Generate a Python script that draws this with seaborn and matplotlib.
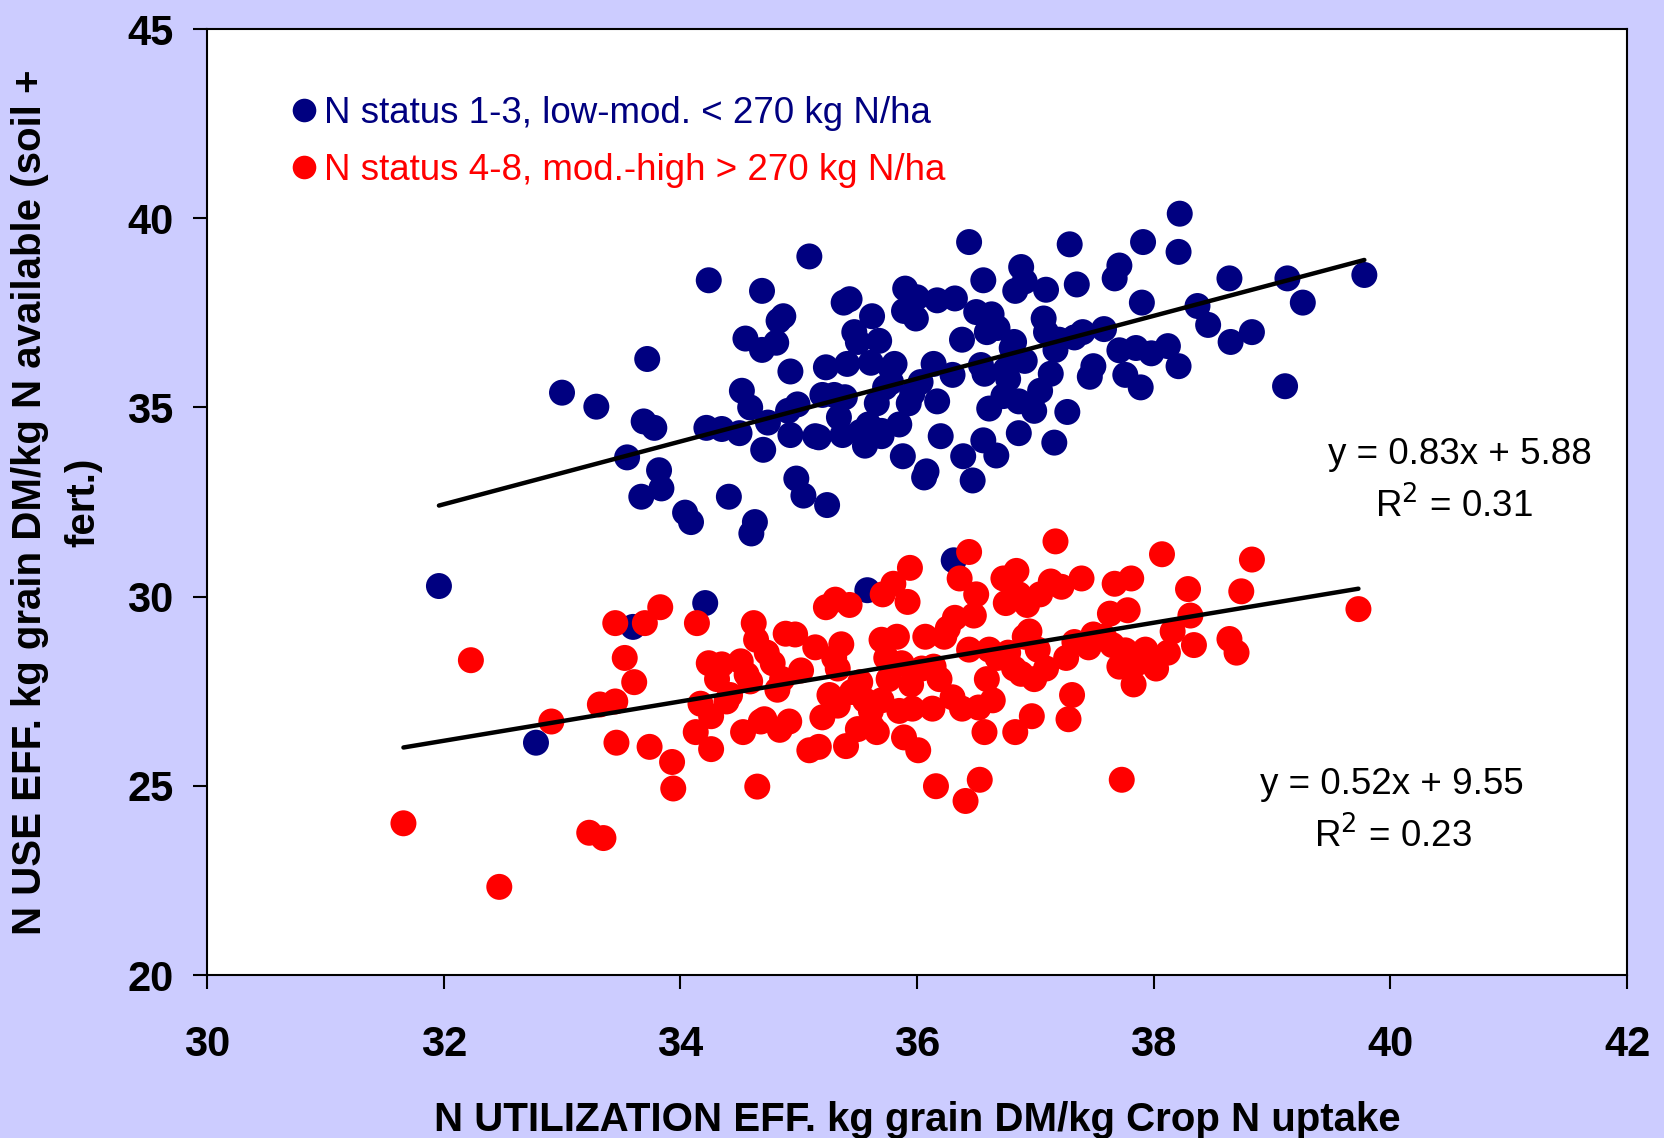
import numpy as np
import pandas as pd
import matplotlib
matplotlib.use("Agg")
import matplotlib.pyplot as plt
import seaborn as sns
from matplotlib.lines import Line2D

# ---- data: low-moderate N status (blue) ----
blue_x = [31.96, 32.78, 33.00, 33.29, 33.55, 33.60, 33.67, 33.69, 33.72, 33.78, 33.82, 33.84,
          34.04, 34.09, 34.21, 34.24, 34.22, 34.35, 34.41, 34.50, 34.52, 34.55, 34.59, 34.60,
          34.63, 34.69, 34.69, 34.70, 34.74, 34.81, 34.83, 34.87, 34.91, 34.93, 34.93, 34.98,
          34.99, 35.04, 35.09, 35.14, 35.17, 35.24, 35.23, 35.20, 35.30, 35.34, 35.37, 35.38,
          35.41, 35.39, 35.43, 35.47, 35.50, 35.52, 35.56, 35.59, 35.58, 35.61, 35.62, 35.66,
          35.68, 35.70, 35.70, 35.73, 35.78, 35.78, 35.81, 35.85, 35.88, 35.89, 35.90, 35.93,
          35.96, 35.99, 36.00, 36.03, 36.06, 36.08, 36.14, 36.17, 36.17, 36.20, 36.30, 36.31,
          36.32, 36.38, 36.39, 36.44, 36.47, 36.50, 36.54, 36.56, 36.56, 36.57, 36.59, 36.61,
          36.63, 36.67, 36.68, 36.73, 36.75, 36.77, 36.80, 36.82, 36.83, 36.86, 36.86, 36.88,
          36.91, 36.91, 36.99, 37.04, 37.07, 37.09, 37.09, 37.13, 37.16, 37.17, 37.20, 37.27,
          37.29, 37.33, 37.35, 37.40, 37.46, 37.49, 37.58, 37.67, 37.71, 37.71, 37.76, 37.85,
          37.89, 37.90, 37.91, 37.98, 38.12, 38.21, 38.21, 38.22, 38.37, 38.46, 38.64, 38.65,
          38.83, 39.11, 39.13, 39.26, 39.78]
blue_y = [30.28, 26.14, 35.39, 35.02, 33.68, 29.20, 32.64, 34.63, 36.28, 34.46, 33.34, 32.86,
          32.22, 31.97, 29.83, 38.36, 34.46, 34.43, 32.64, 34.32, 35.44, 36.82, 35.00, 31.67,
          31.97, 38.08, 36.52, 33.88, 34.60, 36.71, 37.29, 37.41, 34.91, 35.95, 34.27, 33.12,
          35.08, 32.67, 38.99, 34.24, 34.21, 32.42, 36.06, 35.33, 35.33, 34.74, 34.27, 37.77,
          36.15, 35.27, 37.86, 36.99, 36.73, 34.35, 33.99, 34.55, 30.17, 36.18, 37.41, 35.11,
          36.76, 34.38, 34.24, 35.53, 36.03, 35.67, 36.15, 34.55, 33.71, 37.55, 38.14, 35.11,
          35.36, 37.35, 37.91, 35.67, 33.15, 33.31, 36.15, 37.83, 35.16, 34.24, 35.86, 30.96,
          37.88, 36.79, 33.71, 39.37, 33.07, 37.52, 36.12, 38.36, 34.13, 35.89, 36.99, 34.97,
          37.46, 33.73, 37.10, 35.30, 36.00, 35.75, 36.57, 36.73, 38.08, 34.32, 35.16, 38.71,
          38.33, 36.23, 34.91, 35.44, 37.35, 36.99, 38.11, 35.89, 34.07, 36.52, 36.79, 34.88,
          39.31, 36.85, 38.25, 36.99, 35.81, 36.09, 37.07, 38.41, 38.75, 36.51, 35.86, 36.57,
          35.53, 37.77, 39.37, 36.43, 36.62, 39.11, 36.09, 40.12, 37.68, 37.18, 38.41, 36.73,
          36.99, 35.56, 38.41, 37.77, 38.50]

# ---- data: moderate-high N status (red) ----
red_x = [31.66, 32.23, 32.47, 32.91, 33.23, 33.35, 33.32, 33.45, 33.45, 33.46, 33.53, 33.61,
         33.70, 33.74, 33.83, 33.93, 33.94, 34.14, 34.13, 34.17, 34.24, 34.26, 34.26, 34.31,
         34.35, 34.39, 34.42, 34.51, 34.53, 34.56, 34.59, 34.62, 34.64, 34.65, 34.68, 34.71,
         34.73, 34.78, 34.82, 34.84, 34.86, 34.89, 34.92, 34.97, 35.02, 35.09, 35.14, 35.17,
         35.20, 35.23, 35.26, 35.30, 35.31, 35.33, 35.33, 35.36, 35.40, 35.43, 35.45, 35.50,
         35.52, 35.56, 35.61, 35.62, 35.66, 35.70, 35.70, 35.71, 35.74, 35.76, 35.80, 35.83,
         35.85, 35.87, 35.89, 35.92, 35.94, 35.95, 35.96, 36.01, 36.04, 36.07, 36.13, 36.14,
         36.16, 36.19, 36.23, 36.26, 36.30, 36.32, 36.36, 36.38, 36.41, 36.44, 36.44, 36.48,
         36.50, 36.52, 36.53, 36.57, 36.59, 36.61, 36.64, 36.68, 36.73, 36.75, 36.77, 36.82,
         36.83, 36.84, 36.86, 36.88, 36.91, 36.93, 36.95, 36.97, 36.99, 37.02, 37.04, 37.09,
         37.13, 37.17, 37.22, 37.26, 37.28, 37.31, 37.33, 37.39, 37.45, 37.49, 37.58, 37.63,
         37.65, 37.67, 37.71, 37.73, 37.76, 37.78, 37.81, 37.83, 37.86, 37.93, 37.98, 38.02,
         38.07, 38.12, 38.16, 38.29, 38.31, 38.34, 38.64, 38.70, 38.74, 38.83, 39.73]
red_y = [24.01, 28.32, 22.33, 26.70, 23.76, 23.62, 27.15, 27.23, 29.30, 26.14, 28.38, 27.74,
         29.30, 26.03, 29.72, 25.63, 24.93, 29.30, 26.42, 27.17, 28.24, 25.97, 26.84, 27.82,
         28.21, 27.23, 27.40, 28.29, 26.42, 27.94, 27.76, 29.30, 28.86, 24.98, 26.70, 26.76,
         28.52, 28.24, 27.54, 26.48, 27.82, 29.02, 26.70, 29.00, 28.05, 25.94, 28.66, 26.03,
         26.81, 29.72, 27.40, 28.38, 29.92, 28.10, 27.12, 28.74, 26.05, 29.78, 27.48, 26.50,
         27.74, 27.26, 26.98, 26.56, 26.42, 28.86, 27.26, 30.06, 28.38, 27.82, 30.34, 28.94,
         26.98, 28.24, 26.28, 29.86, 30.76, 27.68, 27.04, 25.94, 28.10, 28.94, 27.04, 28.15,
         24.99, 27.82, 28.94, 29.16, 27.34, 29.44, 30.48, 27.04, 24.60, 31.18, 28.60, 29.50,
         30.06, 27.07, 25.16, 26.42, 27.82, 28.60, 27.26, 28.38, 30.48, 29.83, 28.52, 28.10,
         26.42, 30.68, 30.06, 27.96, 28.94, 29.78, 29.08, 26.84, 27.82, 28.60, 30.06, 28.10,
         30.40, 31.46, 30.26, 28.38, 26.76, 27.40, 28.80, 30.48, 28.66, 29.00, 28.94, 29.55,
         28.72, 30.34, 28.15, 25.16, 28.58, 29.64, 30.48, 27.68, 28.24, 28.60, 28.38, 28.10,
         31.12, 28.52, 29.08, 30.20, 29.50, 28.72, 28.88, 28.52, 30.14, 30.98, 29.67]

group_labels = ["N status 1-3, low-mod. < 270 kg N/ha",
                "N status 4-8, mod.-high > 270 kg N/ha"]
fit_slopes = [0.83, 0.52]
fit_intercepts = [5.88, 9.55]
fit_r2 = [0.31, 0.23]

x_ticks = [30, 32, 34, 36, 38, 40, 42]
y_ticks = [20, 25, 30, 35, 40, 45]

colors = ["#000080", "#FF0000"]

df = pd.DataFrame({
    "x": blue_x + red_x,
    "y": blue_y + red_y,
    "group": [group_labels[0]] * len(blue_x) + [group_labels[1]] * len(red_x),
})

sns.set_style("white")
plt.rcParams["font.family"] = ["Liberation Sans", "DejaVu Sans"]
plt.rcParams["text.color"] = "black"
plt.rcParams["axes.labelcolor"] = "black"
plt.rcParams["xtick.color"] = "black"
plt.rcParams["ytick.color"] = "black"

fig = plt.figure(figsize=(16.64, 11.38), dpi=100, facecolor="#CCCCFF")
ax = fig.add_axes([0.1244, 0.1432, 0.8534, 0.8313])
ax.set_facecolor("white")

sns.scatterplot(data=df, x="x", y="y", hue="group", palette=dict(zip(group_labels, colors)),
                s=350, linewidth=0, alpha=1, legend=False, ax=ax, zorder=2)

# regression lines (given equations)
for xs, a, b in [(blue_x, fit_slopes[0], fit_intercepts[0]), (red_x, fit_slopes[1], fit_intercepts[1])]:
    xx = np.array([min(xs), max(xs)])
    ax.plot(xx, a * xx + b, color="black", lw=3.2, zorder=3, solid_capstyle="round")

ax.set_xlim(30, 42)
ax.set_ylim(20, 45)
ax.set_xticks(x_ticks)
ax.set_yticks(y_ticks)
ax.set_xticklabels([str(t) for t in x_ticks], fontsize=30, fontweight="bold")
ax.set_yticklabels([str(t) for t in y_ticks], fontsize=30, fontweight="bold")
ax.tick_params(axis="x", direction="out", length=10, width=1.5, color="black",
               bottom=True, pad=26)
ax.tick_params(axis="y", direction="out", length=10, width=1.5, color="black",
               left=True, pad=14)
for sp in ax.spines.values():
    sp.set_visible(True)
    sp.set_color("black")
    sp.set_linewidth(1.5)

ax.set_xlabel("N UTILIZATION EFF. kg grain DM/kg Crop N uptake", fontsize=29,
              fontweight="bold", labelpad=26)
ax.set_ylabel("N USE EFF. kg grain DM/kg N available (soil +\nfert.)", fontsize=29,
              fontweight="bold", labelpad=18, linespacing=1.5)

# legend
handles = [Line2D([0], [0], marker="o", linestyle="", markersize=17,
                  markerfacecolor=c, markeredgewidth=0) for c in colors]
leg = ax.legend(handles, group_labels, loc="upper left", bbox_to_anchor=(0.045, 0.945),
                frameon=False, fontsize=26.5, handletextpad=0.05, labelspacing=0.6,
                handlelength=1.0, borderaxespad=0)
for t, c in zip(leg.get_texts(), colors):
    t.set_color(c)

# equations
ax.text(40.59, 33.76, f"y = {fit_slopes[0]:.2f}x + {fit_intercepts[0]:.2f}", fontsize=26.5,
        ha="center", va="center")
ax.text(40.54, 32.39, "R$^2$ = " + f"{fit_r2[0]:.2f}", fontsize=26.5, ha="center", va="center")
ax.text(40.01, 25.04, f"y = {fit_slopes[1]:.2f}x + {fit_intercepts[1]:.2f}", fontsize=26.5,
        ha="center", va="center")
ax.text(40.02, 23.67, "R$^2$ = " + f"{fit_r2[1]:.2f}", fontsize=26.5, ha="center", va="center")

fig.savefig("out.png", dpi=100, facecolor=fig.get_facecolor())
